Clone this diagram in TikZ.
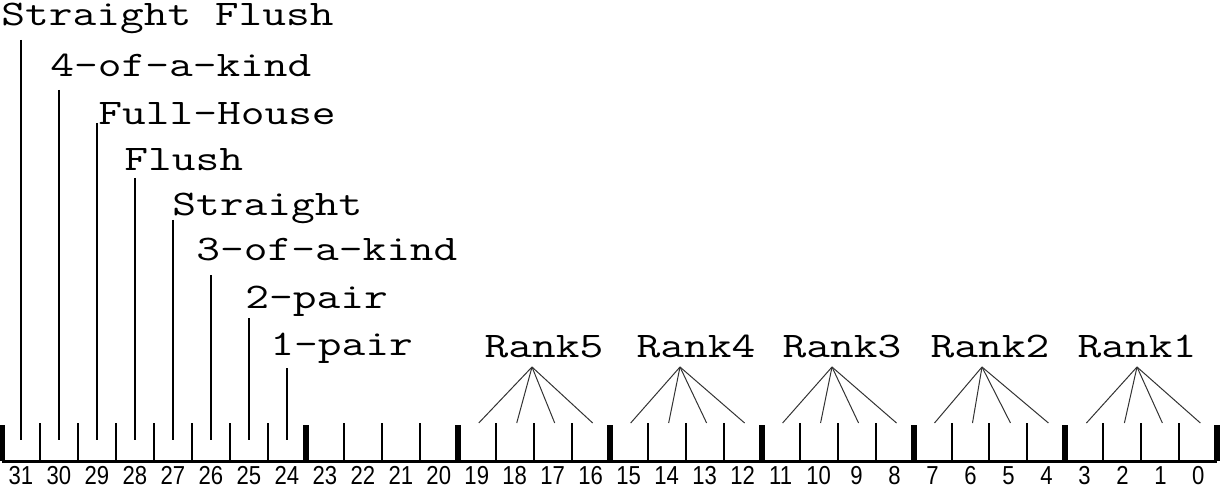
\documentclass[tikz,border=0pt]{standalone}
\usepackage{fontspec}
\setmainfont{Liberation Sans}
\usetikzlibrary{calc}
\newcommand\handtext[1]{\scalebox{1.28}[1]{#1}}
\newcommand\bittext[1]{\scalebox{0.85}[1]{#1}}

\begin{document}
\begin{tikzpicture}[x=0.5pt,y=-0.5pt,
    handlabel/.style={font=\ttfamily\fontsize{18}{18}\selectfont, inner sep=0, anchor=base west},
    ranklabel/.style={font=\ttfamily\fontsize{18}{18}\selectfont, inner sep=0, anchor=base},
    bitlabel/.style={font=\fontsize{13}{13}\selectfont, inner sep=0, anchor=base},
    thintick/.style={draw, line width=1pt},
    thicktick/.style={draw, line width=3pt},
    leader/.style={draw, line width=0.8pt},
    fan/.style={draw, line width=0.5pt, black!80}
    ]
    \useasboundingbox (0,0) rectangle (1222,492);

    \foreach \b in {0,...,31} {
        \pgfmathsetmacro\cx{2+37.98*(31-\b+0.5)}
        \coordinate (b\b) at (\cx,440);
        \coordinate (t\b) at (\cx+2,423);
        \node[bitlabel] (n\b) at (\cx,484) {\bittext{\b}};
    }
    \foreach \k in {0,...,32} {
        \pgfmathsetmacro\tx{2+37.98*\k}
        \coordinate (k\k) at (\tx,461);
    }

    \draw[line width=1.5pt] (k0) -- (k32);
    \foreach \k in {1,2,3,4,5,6,7,9,10,11,13,14,15,17,18,19,21,22,23,25,26,27,29,30,31}
        \path[thintick] (k\k) -- ++(0,-38);
    \foreach \k in {0,8,12,16,20,24,28,32}
        \path[thicktick] (k\k) -- ++(0,-36);

    \foreach \b/\t/\x/\y/\s in {31/Straight Flush/1/26/40, 30/4-of-a-kind/50/77/90,
        29/Full-House/98/125/123, 28/Flush/124/170/178, 27/Straight/172/215/220,
        26/3-of-a-kind/196/260/275, 25/2-pair/245/308/318, 24/1-pair/270/355/368} {
        \node[handlabel] (h\b) at (\x,\y) {\handtext{\t}};
        \coordinate (s\b) at (b\b |- 0,\s);
        \path[leader] (s\b) -- (b\b);
    }

    \foreach \r/\lx/\ax/\hi in {5/544/532/19, 4/696/680/15, 3/842/832/11,
        2/990/982/7, 1/1137/1137/3} {
        \node[ranklabel] (r\r) at (\lx,357) {\handtext{Rank\r}};
        \coordinate (a\r) at (\ax,367);
        \foreach \j in {0,...,3} {
            \pgfmathtruncatemacro\bb{\hi-\j}
            \path[fan] (a\r) -- (t\bb);
        }
    }
\end{tikzpicture}
\end{document}
